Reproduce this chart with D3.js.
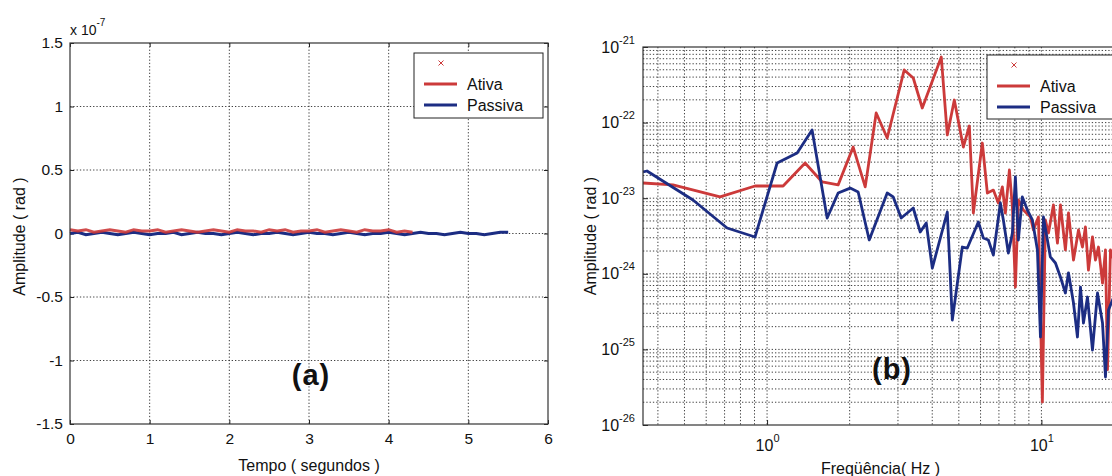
<!DOCTYPE html>
<html><head><meta charset="utf-8">
<script src="https://cdn.jsdelivr.net/npm/d3@7"></script>
<style>
body{margin:0;background:#fff}
svg{display:block}
text{font-family:"Liberation Sans",Arial,Helvetica,sans-serif;fill:#111}
</style>
</head><body>
<svg id="chart" width="1112" height="476"></svg>
<script>
// ---------------- DATA ----------------
// Panel (a): time response, amplitude in units of 1e-7 rad, sampled every 0.1 s
const sampleStep = 0.1;
const ativaTime = [0.03,0.02,0.03,0.01,0.02,0.03,0.02,0.01,0.03,0.02,
                   0.02,0.03,0.01,0.02,0.03,0.02,0.01,0.02,0.03,0.02,
                   0.01,0.03,0.02,0.02,0.01,0.03,0.02,0.03,0.01,0.02,
                   0.02,0.03,0.01,0.02,0.03,0.02,0.01,0.03,0.02,0.02,
                   0.03,0.01,0.02,0.01];
const passivaTime = [0.00,0.01,-0.01,0.00,0.01,0.00,-0.01,0.00,0.01,0.00,
                     -0.01,0.00,0.00,0.01,-0.01,0.00,0.01,0.00,0.00,-0.01,
                     0.00,0.01,0.00,-0.01,0.00,0.00,0.01,0.00,-0.01,0.00,
                     0.01,0.00,0.00,-0.01,0.00,0.01,0.00,-0.01,0.00,0.00,
                     0.01,0.00,-0.01,0.00,0.01,0.00,0.00,-0.01,0.00,0.01,
                     0.00,0.00,-0.01,0.00,0.01,0.01];
const timeTicksX = [0,1,2,3,4,5,6];
const timeTicksY = [-1.5,-1,-0.5,0,0.5,1,1.5];

// Panel (b): spectrum (frequency Hz, amplitude rad)
const ativaFreq = [0.353,0.454,0.674,0.904,1.144,1.376,1.588,1.816,2.060,2.279,2.499,2.741,3.162,3.411,3.679,4.315,4.539,4.814,5.193,5.461,5.648,6.090,6.353,6.681,6.968,7.206,7.390,7.643,7.838,8.037,8.242,8.595,9.119,9.350,9.752,10.08,10.34,10.61,11.06,11.44,11.73,12.23,12.55,13.09,13.65,14.11,14.47,14.84,15.35,15.74,16.14,16.70,17.12,17.41,17.85,18.47];
const ativaAmp = [1.59e-23,1.50e-23,1.04e-23,1.45e-23,1.45e-23,2.92e-23,1.64e-23,1.50e-23,4.75e-23,1.41e-23,1.34e-22,6.25e-23,4.97e-22,3.89e-22,1.56e-22,7.38e-22,6.86e-23,1.99e-22,4.75e-23,9.02e-23,6.37e-24,5.37e-23,1.17e-23,1.28e-23,8.65e-24,1.41e-23,6.37e-24,2.36e-23,7.65e-24,6.68e-25,9.47e-24,6.98e-24,5.64e-24,3.80e-24,5.64e-24,2.01e-26,5.15e-24,3.47e-24,8.13e-24,2.55e-24,8.13e-24,2.07e-24,6.37e-24,1.52e-24,3.80e-24,2.26e-24,4.16e-24,1.12e-24,3.07e-24,1.52e-24,2.26e-24,7.55e-25,2.07e-24,5.4e-26,2.07e-24,1.43e-24];
const passivaFreq = [0.353,0.365,0.537,0.715,0.904,1.088,1.287,1.459,1.656,1.816,2.009,2.148,2.357,2.741,2.883,3.083,3.411,3.617,3.804,4.002,4.539,4.734,5.149,5.370,5.889,6.141,6.406,6.681,7.086,7.266,7.578,7.838,8.037,8.242,8.52,8.89,9.27,9.67,9.92,10.17,10.78,11.25,11.73,12.23,12.55,13.09,13.53,13.88,14.23,14.72,15.35,16.01,16.70,17.12,17.56,18.47];
const passivaAmp = [2.22e-23,2.29e-23,9.47e-24,4.04e-24,3.07e-24,2.92e-23,3.96e-23,7.98e-23,5.47e-24,1.17e-23,1.36e-23,1.21e-23,2.80e-24,1.17e-23,1.04e-23,5.47e-24,7.42e-24,3.57e-24,4.70e-24,1.19e-24,6.57e-24,2.45e-25,2.26e-24,2.19e-24,4.84e-24,2.98e-24,2.80e-24,1.77e-24,8.65e-24,5.15e-24,1.88e-24,3.47e-24,1.91e-23,2.80e-24,1.04e-23,6.98e-24,5.15e-24,2.07e-24,1.46e-25,5.64e-24,1.67e-24,1.39e-24,9.07e-25,5.57e-25,1.03e-24,4.11e-25,1.46e-25,6.68e-25,2.23e-25,4.93e-25,9.82e-26,5.57e-25,2.23e-25,4.31e-26,3.32e-25,5.25e-25];
const freqTicksX = [1,10];
const freqTicksY = [1e-26,1e-25,1e-24,1e-23,1e-22,1e-21];

const seriesNames = ["Ativa","Passiva"];
const colorAtiva = "#cc3a3a", colorPassiva = "#1c2d83";

// ---------------- DRAW ----------------
const svg = d3.select("#chart");
const gridStyle = s => s.attr("stroke","#2a2a2a").attr("stroke-width",0.9).attr("stroke-dasharray","1.3,2").attr("fill","none");

// ===== Panel (a) =====
const L = {l:70, r:548, t:43, b:424};
const xL = d3.scaleLinear().domain([0,6]).range([L.l,L.r]);
const yL = d3.scaleLinear().domain([-1.5,1.5]).range([L.b,L.t]);
const gA = svg.append("g");

gA.append("g").selectAll("line").data(timeTicksX.slice(1,-1)).join("line")
  .attr("x1",d=>xL(d)).attr("x2",d=>xL(d)).attr("y1",L.t).attr("y2",L.b).call(gridStyle);
gA.append("g").selectAll("line").data(timeTicksY.slice(1,-1)).join("line")
  .attr("y1",d=>yL(d)).attr("y2",d=>yL(d)).attr("x1",L.l).attr("x2",L.r).call(gridStyle);

const fmtA = d => String(d);
const axB = gA.append("g").attr("transform",`translate(0,${L.b})`)
  .call(d3.axisBottom(xL).tickValues(timeTicksX).tickFormat(fmtA).tickSizeInner(-4).tickSizeOuter(0).tickPadding(9));
const axT = gA.append("g").attr("transform",`translate(0,${L.t})`)
  .call(d3.axisTop(xL).tickValues(timeTicksX).tickFormat("").tickSizeInner(-4).tickSizeOuter(0));
const axLft = gA.append("g").attr("transform",`translate(${L.l},0)`)
  .call(d3.axisLeft(yL).tickValues(timeTicksY).tickFormat(fmtA).tickSizeInner(-4).tickSizeOuter(0).tickPadding(7));
const axR = gA.append("g").attr("transform",`translate(${L.r},0)`)
  .call(d3.axisRight(yL).tickValues(timeTicksY).tickFormat("").tickSizeInner(-4).tickSizeOuter(0));
[axB,axT,axLft,axR].forEach(a=>{a.select(".domain").remove();a.selectAll("text").attr("font-size",15.5).attr("fill","#111");a.selectAll("line").attr("stroke","#222");});

const lineA = d3.line().x((d,i)=>xL(i*sampleStep)).y(d=>yL(d));
gA.append("path").datum(passivaTime).attr("d",lineA).attr("fill","none").attr("stroke",colorPassiva).attr("stroke-width",3);
gA.append("path").datum(ativaTime).attr("d",lineA).attr("fill","none").attr("stroke",colorAtiva).attr("stroke-width",3).attr("stroke-opacity",0.9);

gA.append("rect").attr("x",L.l).attr("y",L.t).attr("width",L.r-L.l).attr("height",L.b-L.t)
  .attr("fill","none").attr("stroke","#333").attr("stroke-width",1.2);

const expT = gA.append("text").attr("x",L.l).attr("y",35).attr("font-size",14);
expT.append("tspan").text("x 10");
expT.append("tspan").attr("dy",-9).attr("font-size",10).text("-7");

gA.append("text").attr("x",(L.l+L.r)/2).attr("y",471).attr("text-anchor","middle").attr("font-size",16).text("Tempo ( segundos )");
gA.append("text").attr("transform",`translate(25,${(L.t+L.b)/2+3}) rotate(-90)`).attr("text-anchor","middle").attr("font-size",16).text("Amplitude ( rad )");
gA.append("text").attr("x",311).attr("y",385).attr("text-anchor","middle").attr("font-size",29).attr("font-weight","bold").attr("letter-spacing",1).text("(a)");

function legend(g, x0, y0, w, h){
  g.append("rect").attr("x",x0).attr("y",y0).attr("width",w).attr("height",h).attr("fill","#fff").attr("stroke","#222").attr("stroke-width",1);
  const mx = x0+27, my = y0+10;
  g.append("path").attr("d",`M${mx-2.5},${my-2.5}L${mx+2.5},${my+2.5}M${mx-2.5},${my+2.5}L${mx+2.5},${my-2.5}`).attr("stroke",colorAtiva).attr("stroke-width",1);
  [colorAtiva,colorPassiva].forEach((c,i)=>{
    const yy = y0+31+i*21;
    g.append("line").attr("x1",x0+10).attr("x2",x0+43).attr("y1",yy).attr("y2",yy).attr("stroke",c).attr("stroke-width",2.8);
    g.append("text").attr("x",x0+53).attr("y",yy+6).attr("font-size",16).text(seriesNames[i]);
  });
}
legend(gA.append("g"), 414, 53, 129, 65);

// ===== Panel (b) =====
const R = {l:643, r:1124, t:47, b:425};
const xR = d3.scaleLog().domain([0.353,20]).range([R.l,R.r]);
const yR = d3.scaleLog().domain([1e-26,1e-21]).range([R.b,R.t]);
const gB = svg.append("g");
gB.append("clipPath").attr("id","clipB").append("rect").attr("x",R.l).attr("y",R.t).attr("width",R.r-R.l).attr("height",R.b-R.t);

const xGrid = xR.ticks().filter(d=>d>0.36 && d<20);
const yGrid = yR.ticks().filter(d=>d>1.01e-26 && d<0.99e-21);
gB.append("g").selectAll("line").data(xGrid).join("line")
  .attr("x1",d=>xR(d)).attr("x2",d=>xR(d)).attr("y1",R.t).attr("y2",R.b).call(gridStyle);
gB.append("g").selectAll("line").data(yGrid).join("line")
  .attr("y1",d=>yR(d)).attr("y2",d=>yR(d)).attr("x1",R.l).attr("x2",R.r).call(gridStyle);

function powLabels(sel, supDy){
  sel.selectAll(".tick text").each(function(d){
    const e = Math.round(Math.log10(d));
    const t = d3.select(this); t.text(null);
    t.append("tspan").text("10");
    t.append("tspan").attr("dy",supDy).attr("font-size",11).text(e);
  });
}
const bB = gB.append("g").attr("transform",`translate(0,${R.b})`)
  .call(d3.axisBottom(xR).tickValues(freqTicksX).tickSizeInner(-5).tickSizeOuter(0).tickPadding(15));
const bL = gB.append("g").attr("transform",`translate(${R.l},0)`)
  .call(d3.axisLeft(yR).tickValues(freqTicksY).tickSizeInner(-5).tickSizeOuter(0).tickPadding(8));
[bB,bL].forEach(a=>{a.select(".domain").remove();a.selectAll("text").attr("font-size",16).attr("fill","#111");a.selectAll("line").attr("stroke","#222");});
powLabels(bB,-9); powLabels(bL,-9);

const lineB = d3.line().x(d=>xR(d[0])).y(d=>yR(d[1]));
const gLines = gB.append("g").attr("clip-path","url(#clipB)");
gLines.append("path").datum(ativaFreq.map((f,i)=>[f,ativaAmp[i]])).attr("d",lineB).attr("fill","none").attr("stroke",colorAtiva).attr("stroke-width",2.8).attr("stroke-linejoin","round");
gLines.append("path").datum(passivaFreq.map((f,i)=>[f,passivaAmp[i]])).attr("d",lineB).attr("fill","none").attr("stroke",colorPassiva).attr("stroke-width",2.8).attr("stroke-linejoin","round");

gB.append("rect").attr("x",R.l).attr("y",R.t).attr("width",R.r-R.l).attr("height",R.b-R.t)
  .attr("fill","none").attr("stroke","#333").attr("stroke-width",1.2);

gB.append("text").attr("x",(R.l+R.r)/2-3).attr("y",474).attr("text-anchor","middle").attr("font-size",16).text("Freqüência( Hz )");
gB.append("text").attr("transform",`translate(596,${(R.t+R.b)/2}) rotate(-90)`).attr("text-anchor","middle").attr("font-size",16).text("Amplitude ( rad )");
gB.append("text").attr("x",892).attr("y",379).attr("text-anchor","middle").attr("font-size",29).attr("font-weight","bold").attr("letter-spacing",1).text("(b)");

legend(gB.append("g"), 987, 55, 135, 64);
</script>
</body></html>
